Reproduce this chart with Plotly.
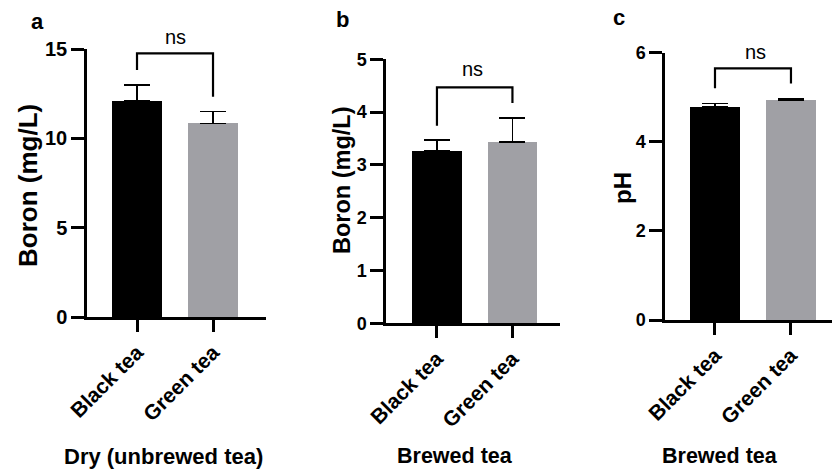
import plotly.graph_objects as go

W, H = 832, 469

categories = ["Black tea", "Green tea"]
bar_colors = ["#000000", "#a0a0a5"]

# Panel a: dry (unbrewed) tea boron
a_means = [12.10, 10.84]
a_upper = [12.98, 11.49]
a_bracket = [13.82, 14.76, 14.76, 12.33]

# Panel b: brewed tea boron
b_means = [3.26, 3.43]
b_upper = [3.47, 3.89]
b_bracket = [3.74, 4.47, 4.47, 4.17]

# Panel c: brewed tea pH
c_means = [4.79, 4.94]
c_upper = [4.86, 4.97]
c_bracket = [5.20, 5.65, 5.65, 5.31]

y_titles = ["Boron (mg/L)", "Boron (mg/L)", "pH"]
x_titles = ["Dry (unbrewed tea)", "Brewed tea", "Brewed tea"]
panel_letters = ["a", "b", "c"]
y_tickvals = [[0, 5, 10, 15], [0, 1, 2, 3, 4, 5], [0, 2, 4, 6]]
y_ranges = [[0, 15], [0, 5], [0, 6]]

FONT = "Liberation Sans, Arial, Helvetica, sans-serif"

def px(x):
    return x / W

def py(y):
    return 1 - y / H

panels = [
    dict(means=a_means, upper=a_upper, bracket=a_bracket,
         xdom=[87, 266], ydom=[317, 49], xr=[-0.658, 1.697],
         ns=(175, 37), letter=(37, 21), xt=(163, 456), yt=(28, 186), ytsize=26, tick=20, xtsize=22),
    dict(means=b_means, upper=b_upper, bracket=b_bracket,
         xdom=[386, 560], ydom=[323.3, 59.3], xr=[-0.675, 1.63],
         ns=(472, 69), letter=(342, 19), xt=(455, 456), yt=(342, 180), ytsize=23.5, tick=18, xtsize=21.5),
    dict(means=c_means, upper=c_upper, bracket=c_bracket,
         xdom=[665, 832], ydom=[320, 52.7], xr=[-0.658, 1.54],
         ns=(755, 52), letter=(619, 17), xt=(720, 456), yt=(622, 188), ytsize=24, tick=18, xtsize=21.5),
]

fig = go.Figure()
annotations = []
for i, p in enumerate(panels):
    n = "" if i == 0 else str(i + 1)
    xa, ya = "x" + n, "y" + n
    err = [u - m for u, m in zip(p["upper"], p["means"])]
    fig.add_trace(go.Bar(
        x=[0, 1], y=p["means"], width=0.66,
        marker=dict(color=bar_colors, line=dict(width=0)),
        error_y=dict(type="data", array=err, arrayminus=[0, 0], symmetric=False,
                     color="black", thickness=1.5, width=13),
        xaxis=xa, yaxis=ya, showlegend=False, hoverinfo="skip"))
    fig.add_trace(go.Scatter(
        x=[0, 0, 1, 1], y=p["bracket"], mode="lines",
        line=dict(color="black", width=2.2), xaxis=xa, yaxis=ya,
        showlegend=False, hoverinfo="skip"))
    axis_common = dict(showline=True, linecolor="black", linewidth=2.5,
                       ticks="outside", tickcolor="black", tickwidth=2.5,
                       showgrid=False, zeroline=False, automargin=False)
    fig.layout["xaxis" + n] = dict(
        domain=[px(p["xdom"][0]), px(p["xdom"][1])], range=p["xr"],
        anchor=ya, tickvals=[0, 1], ticktext=categories, tickangle=-45,
        ticklen=12, tickfont=dict(family=FONT, size=21, color="black", weight="bold"),
        **axis_common)
    fig.layout["yaxis" + n] = dict(
        domain=[py(p["ydom"][0]), py(p["ydom"][1])], range=y_ranges[i],
        anchor=xa, tickvals=y_tickvals[i], ticklen=13,
        tickfont=dict(family=FONT, size=p["tick"], color="black", weight="bold"),
        **axis_common)
    common_ann = dict(xref="paper", yref="paper", showarrow=False,
                      xanchor="center", yanchor="middle")
    annotations.append(dict(text="ns", x=px(p["ns"][0]), y=py(p["ns"][1]),
                            font=dict(family=FONT, size=20, color="black"), **common_ann))
    annotations.append(dict(text=panel_letters[i], x=px(p["letter"][0]), y=py(p["letter"][1]),
                            font=dict(family=FONT, size=22, color="black", weight="bold"),
                            **common_ann))
    annotations.append(dict(text=x_titles[i], x=px(p["xt"][0]), y=py(p["xt"][1]),
                            font=dict(family=FONT, size=p["xtsize"], color="black", weight="bold"),
                            **common_ann))
    annotations.append(dict(text=y_titles[i], x=px(p["yt"][0]), y=py(p["yt"][1]), textangle=-90,
                            font=dict(family=FONT, size=p["ytsize"], color="black", weight="bold"),
                            **common_ann))

fig.update_layout(
    template="none",
    width=W, height=H, margin=dict(l=0, r=0, t=0, b=0, autoexpand=False),
    paper_bgcolor="white", plot_bgcolor="white",
    annotations=annotations, bargap=0,
)

fig.write_html("out.html", config={"displayModeBar": False},
               post_script="document.body.style.margin='0';")
